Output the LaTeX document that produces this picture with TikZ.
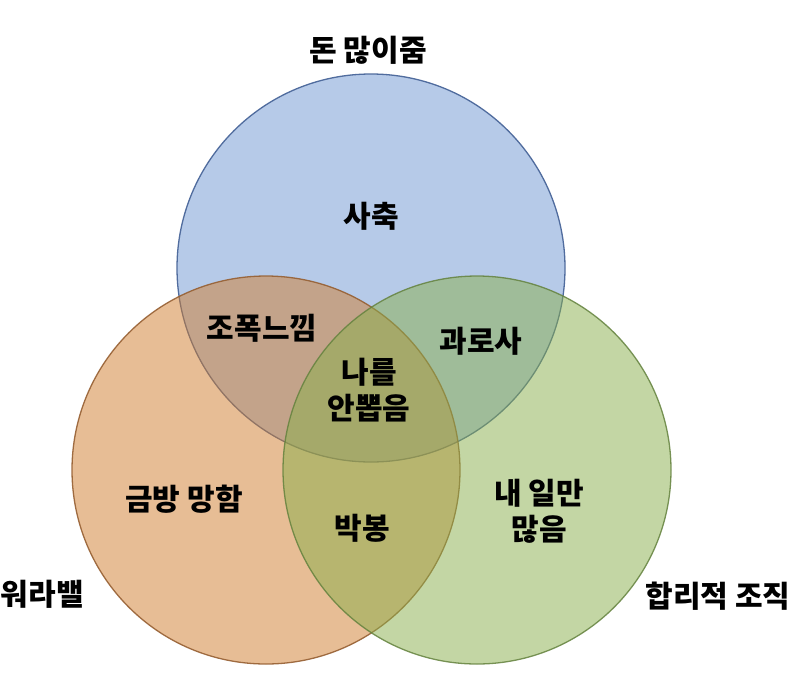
\documentclass[tikz,border=0pt]{standalone}
\usepackage{fontspec}
\newfontfamily\kr{Noto Sans CJK KR}
\definecolor{bfill}{RGB}{182,202,232}
\definecolor{bline}{RGB}{80,108,158}
\definecolor{ofill}{RGB}{209,125,45}
\definecolor{oline}{RGB}{150,95,50}
\definecolor{gfill}{RGB}{137,175,75}
\definecolor{gline}{RGB}{100,130,62}
\begin{document}
\begin{tikzpicture}[x=1pt,y=-1pt,
  lbl/.style={font=\kr\bfseries\fontsize{30}{36}\selectfont, align=center, inner sep=0pt, text=black},
  ring/.style={line width=1.3pt}]
\useasboundingbox (0,0) rectangle (800,673);
\fill[white] (0,0) rectangle (800,673);
% circles
\fill[bfill] (371,268) circle[radius=194];
\draw[ring, bline] (371,268) circle[radius=194];
\fill[ofill, fill opacity=0.5] (266,470) circle[radius=194];
\draw[ring, oline, draw opacity=0.9] (266,470) circle[radius=194];
\fill[gfill, fill opacity=0.5] (477,470) circle[radius=194];
\draw[ring, gline, draw opacity=0.85] (477,470) circle[radius=194];
% labels
\node[lbl] (top) at (368,50) {돈 많이줌};
\node[lbl] (sachuk) at (371,216) {사축};
\node[lbl] (jopok) at (262,328) {조폭느낌};
\node[lbl] (gwaro) at (481,341) {과로사};
\node[lbl] (center) at (369,390) {나를\\안뽑음};
\node[lbl] (geumbang) at (184,499) {금방 망함};
\node[lbl] (bakbong) at (362,528) {박봉};
\node[lbl] (naeil) at (539,511) {내 일만\\많음};
\node[lbl, anchor=east] (worabal) at (84,594) {워라밸};
\node[lbl] (hapri) at (718,596) {합리적 조직};
\end{tikzpicture}
\end{document}
